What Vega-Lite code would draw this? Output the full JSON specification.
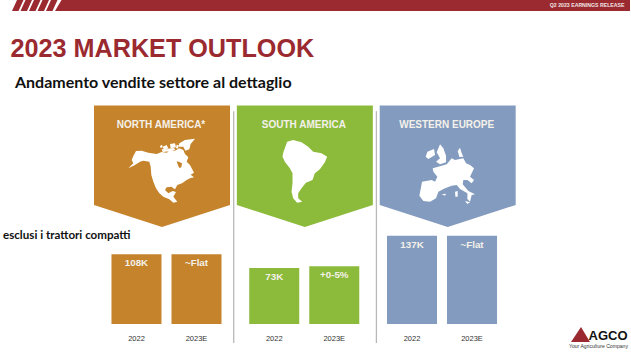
{
"$schema":"https://vega.github.io/schema/vega-lite/v6.json",
"width":631,"height":353,"autosize":"none","padding":0,"background":"white",
"config":{"view":{"stroke":null},"axis":{"domain":false,"ticks":false},"style":{"guide-label":{}}},
"datasets":{
"bars":[
{"region":"North America","year":"2022","value":108,"label":"108K"},
{"region":"North America","year":"2023E","value":108,"label":"~Flat"},
{"region":"South America","year":"2022","value":87,"label":"73K"},
{"region":"South America","year":"2023E","value":89.5,"label":"+0-5%"},
{"region":"Western Europe","year":"2022","value":137,"label":"137K"},
{"region":"Western Europe","year":"2023E","value":137,"label":"~Flat"}],
"banners":[
{"region":"North America","name":"NORTH AMERICA*"},
{"region":"South America","name":"SOUTH AMERICA"},
{"region":"Western Europe","name":"WESTERN EUROPE"}],
"dividers":[{"between":"North-South"},{"between":"South-Europe"}],
"slide":[{"element":"header and logo"}]
},
"resolve":{"scale":{"x":"independent"}},
"layer":[
{"data":{"name":"slide"},"mark":{"type":"point","filled":true,"opacity":1,"size":4,"color":"#9b2a30","strokeWidth":0,
"shape":"M-303.5 -165.5L-297 -165.5L-292 -176.5L-298.5 -176.5ZM-295 -165.5L-288.5 -165.5L-283.5 -176.5L-290 -176.5ZM-286.5 -165.5L-280 -165.5L-275 -176.5L-281.5 -176.5ZM-278 -165.5L-271.5 -165.5L-266.5 -176.5L-273 -176.5ZM-269.5 -165.5L-263 -165.5L-258 -176.5L-264.5 -176.5ZM-260.5 -165.5L314.5 -165.5L314.5 -176.5L-254 -176.5ZM255.5 165.5L265.5 150.5L274.5 165.5Z"},"encoding":{}},
{"data":{"name":"dividers"},"mark":{"type":"rule","color":"#b8b8b8","strokeWidth":1.3},
"encoding":{"x":{"field":"between","type":"nominal","axis":null,"sort":null,"scale":{"type":"point","domain":["North-South","South-Europe"],"range":[233.7,376.4],"padding":0}},
"y":{"datum":330,"type":"quantitative","axis":null,"scale":{"domain":[-44.96,502.33],"nice":false,"zero":false}},"y2":{"datum":-29.5}}},
{"data":{"name":"banners"},"mark":{"type":"point","filled":true,"opacity":1,"size":4,"strokeWidth":0,"shape":"M-68 -66.5L68 -66.5L68 33L0 55L-68 33Z"},
"encoding":{"x":{"field":"region","type":"nominal","axis":null,"sort":null,"scale":{"type":"point","domain":["North America","South America","Western Europe"],"range":[162,447.7],"padding":0}},
"y":{"datum":235.66,"type":"quantitative"},
"color":{"field":"region","type":"nominal","legend":null,"scale":{"domain":["North America","South America","Western Europe"],"range":["#c5832b","#8cbb3c","#839bbe"]}}}},
{"data":{"name":"banners"},"mark":{"type":"point","filled":true,"opacity":1,"size":0.4444,"strokeWidth":0,"color":"white"},
"encoding":{"x":{"field":"region","type":"nominal","axis":null,"sort":null,"scale":{"type":"point","domain":["North America","South America","Western Europe"],"range":[162,447.7],"padding":0}},
"y":{"datum":235.66,"type":"quantitative"},
"shape":{"field":"region","type":"nominal","legend":null,"scale":{"domain":["North America","South America","Western Europe"],"range":[
"M-86 -48L-78 -63L-61 -64L-41 -58L-16 -54L-1 -60L14 -58L24 -64L39 -64L52 -71L64 -66L69 -54L79 -44L74 -31L84 -21L96 2L86 8L96 16L84 19L74 24L60 34L46 39L39 52L34 49L29 44L14 46L9 54L19 64L32 57L42 60L34 74L46 89L34 92L22 82L4 74L-8 64L-18 49L-26 29L-32 9L-34 -16L-38 -31L-56 -34L-66 -31L-81 -21L-101 -11L-86 -26L-91 -36ZM44 -32L48 -20L52 -12L58 -14L60 -26L52 -30ZM52 -86L69 -96L99 -100L86 -84L82 -68L70 -64L64 -76L50 -76ZM2 -76L14 -81L19 -71L6 -66ZM24 -84L39 -86L42 -74L26 -71ZM-1 -68L24 -68L22 -62L2 -60ZM16 -70L36 -72L40 -66L20 -62ZM-6 -78L0 -82L2 -74L-4 -72ZM44 -82L50 -80L48 -70L42 -72Z",
"M-65 -58L-53 -91L-35 -96L-10 -89L10 -76L25 -61L50 -56L67 -46L60 -29L45 -8L30 4L23 24L3 32L-10 49L-20 64L-20 79L-8 89L-23 92L-35 79L-40 59L-37 34L-37 4L-45 -11L-60 -31L-67 -46Z",
"M-45 -11L-18 -19L-3 -23L12 -41L22 -36L47 -41L55 -26L67 -21L79 -11L72 4L67 14L79 24L72 34L59 24L47 24L45 37L62 57L82 67L72 69L67 89L59 81L59 64L37 51L27 39L12 41L-8 49L-28 59L-35 79L-53 89L-73 87L-85 71L-77 29L-48 24L-38 29L-31 14L-43 -1ZM-33 -59L-23 -83L-13 -71L-5 -49L-5 -29L-23 -23L-35 -31L-23 -41ZM-61 -61L-41 -69L-38 -51L-58 -39L-66 -46ZM30 -63L37 -73L42 -56L47 -46L35 -45ZM22 59L30 57L30 74L23 74ZM52 87L67 91L59 96ZM-18 67L-5 65L-8 71Z"
]}}}},
{"data":{"name":"banners"},"mark":{"type":"text","font":"Liberation Sans","fontWeight":"bold","fontSize":10,"color":"#f4f1ea","baseline":"middle","dx":-1},
"encoding":{"x":{"field":"region","type":"nominal","axis":null,"sort":null,"scale":{"type":"point","domain":["North America","South America","Western Europe"],"range":[162,447.7],"padding":0}},
"y":{"datum":309,"type":"quantitative"},"text":{"field":"name"}}},
{"data":{"name":"bars"},"mark":{"type":"bar"},
"encoding":{"x":{"field":"region","type":"nominal","axis":null,"sort":null,"scale":{"domain":["North America","South America","Western Europe"],"range":[97.6,510.9],"paddingInner":0,"paddingOuter":0}},
"xOffset":{"field":"year","type":"nominal","sort":null,"scale":{"domain":["2022","2023E"],"paddingInner":0.1667,"paddingOuter":0.231}},
"y":{"field":"value","type":"quantitative"},"y2":{"datum":0},
"color":{"field":"region","type":"nominal","legend":null}}},
{"data":{"name":"bars"},"mark":{"type":"text","font":"Liberation Sans","fontWeight":"bold","fontSize":9.8,"color":"#f4f1ea","baseline":"middle","dy":9},
"encoding":{"x":{"field":"region","type":"nominal","axis":null,"sort":null,"scale":{"domain":["North America","South America","Western Europe"],"range":[97.6,510.9],"paddingInner":0,"paddingOuter":0}},
"xOffset":{"field":"year","type":"nominal","sort":null,"scale":{"domain":["2022","2023E"],"paddingInner":0.1667,"paddingOuter":0.231}},
"y":{"field":"value","type":"quantitative"},"text":{"field":"label"}}},
{"data":{"name":"bars"},"mark":{"type":"text","font":"Liberation Sans","fontSize":7.5,"color":"#333333","baseline":"middle"},
"encoding":{"x":{"field":"region","type":"nominal","axis":null,"sort":null,"scale":{"domain":["North America","South America","Western Europe"],"range":[97.6,510.9],"paddingInner":0,"paddingOuter":0}},
"xOffset":{"field":"year","type":"nominal","sort":null,"scale":{"domain":["2022","2023E"],"paddingInner":0.1667,"paddingOuter":0.231}},
"y":{"datum":-23.3,"type":"quantitative"},"text":{"field":"year"}}},
{"data":{"name":"slide"},"mark":{"type":"text","font":"Liberation Sans","fontWeight":"bold","fontSize":25.2,"color":"#9b2a30","align":"left","baseline":"middle"},
"encoding":{"x":{"datum":10.5,"type":"quantitative","axis":null,"scale":{"domain":[0,631],"range":[0,631],"nice":false}},"y":{"datum":426.4,"type":"quantitative"},"text":{"value":"2023 MARKET OUTLOOK"}}},
{"data":{"name":"slide"},"mark":{"type":"text","font":"Lato","fontWeight":"bold","fontSize":16,"color":"#111111","align":"left","baseline":"middle"},
"encoding":{"x":{"datum":15,"type":"quantitative","axis":null,"scale":{"domain":[0,631],"range":[0,631],"nice":false}},"y":{"datum":373.6,"type":"quantitative"},"text":{"value":"Andamento vendite settore al dettaglio"}}},
{"data":{"name":"slide"},"mark":{"type":"text","font":"Lato","fontWeight":"bold","fontSize":11.6,"color":"#111111","align":"left","baseline":"middle"},
"encoding":{"x":{"datum":3,"type":"quantitative","axis":null,"scale":{"domain":[0,631],"range":[0,631],"nice":false}},"y":{"datum":136.9,"type":"quantitative"},"text":{"value":"esclusi i trattori compatti"}}},
{"data":{"name":"slide"},"mark":{"type":"text","font":"Liberation Sans","fontWeight":"bold","fontSize":5.2,"color":"#f2e6e6","align":"right","baseline":"middle"},
"encoding":{"x":{"datum":624.5,"type":"quantitative","axis":null,"scale":{"domain":[0,631],"range":[0,631],"nice":false}},"y":{"datum":494.6,"type":"quantitative"},"text":{"value":"Q2 2023 EARNINGS RELEASE"}}},
{"data":{"name":"slide"},"mark":{"type":"text","font":"Liberation Sans","fontWeight":"bold","fontSize":13,"color":"#111111","align":"left","baseline":"middle"},
"encoding":{"x":{"datum":588.5,"type":"quantitative","axis":null,"scale":{"domain":[0,631],"range":[0,631],"nice":false}},"y":{"datum":-18.6,"type":"quantitative"},"text":{"value":"AGCO"}}},
{"data":{"name":"slide"},"mark":{"type":"text","font":"Liberation Sans","fontSize":5.1,"color":"#333333","align":"left","baseline":"middle"},
"encoding":{"x":{"datum":569,"type":"quantitative","axis":null,"scale":{"domain":[0,631],"range":[0,631],"nice":false}},"y":{"datum":-34.1,"type":"quantitative"},"text":{"value":"Your Agriculture Company"}}}
]
}
